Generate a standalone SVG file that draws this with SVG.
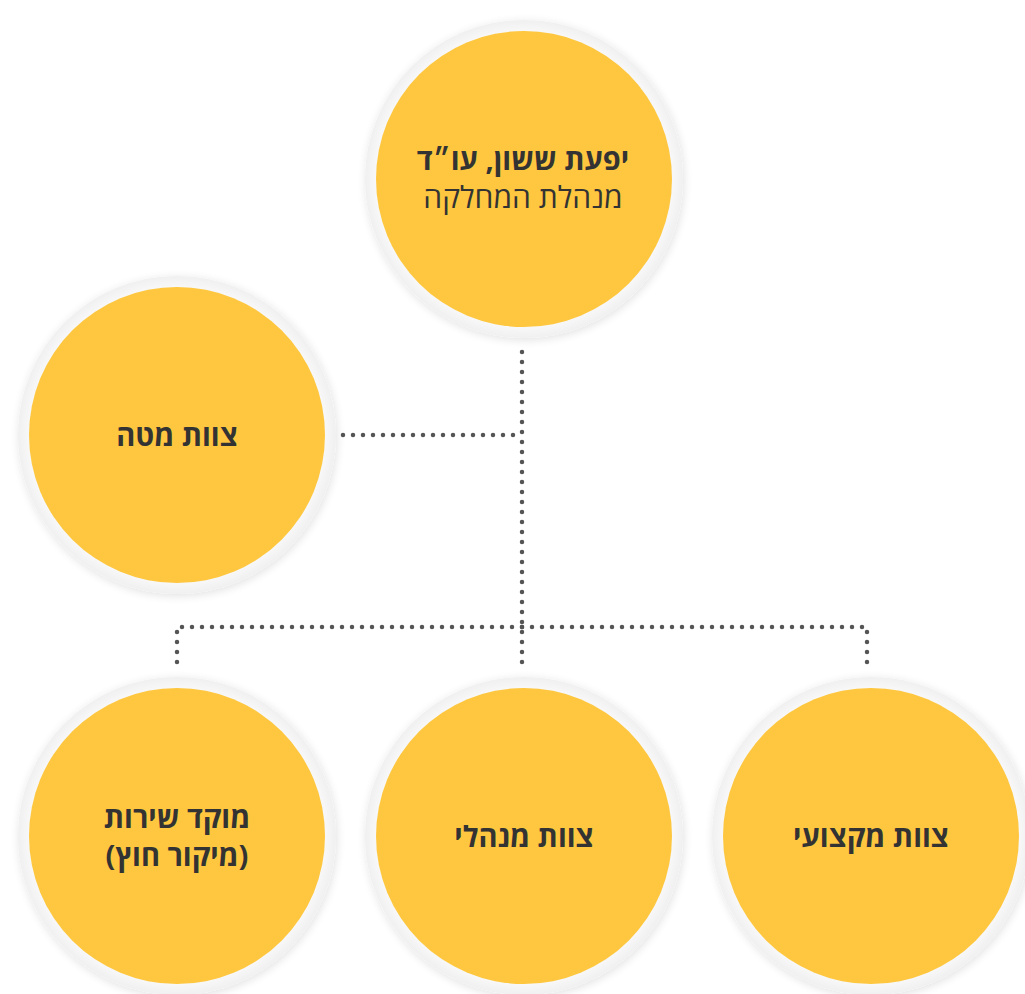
<svg xmlns="http://www.w3.org/2000/svg" width="1025" height="994" viewBox="0 0 1025 994">
  <defs>
    <radialGradient id="ringGrad" cx="0.5" cy="0.5" r="0.5">
      <stop offset="0.92" stop-color="#f9f9f9"/>
      <stop offset="1" stop-color="#f0f0f0"/>
    </radialGradient>
    <filter id="shadow" x="-20%" y="-20%" width="140%" height="140%">
      <feGaussianBlur in="SourceAlpha" stdDeviation="5"/>
      <feOffset dx="1" dy="2" result="b"/>
      <feComponentTransfer><feFuncA type="linear" slope="0.12"/></feComponentTransfer>
      <feMerge><feMergeNode/><feMergeNode in="SourceGraphic"/></feMerge>
    </filter>
  </defs>
  <style>
    .ring { fill: url(#ringGrad); filter: url(#shadow); }
    .disc { fill: #fec73f; }
    .lbl { font-family: "Open Sans", "Liberation Sans", "DejaVu Sans", sans-serif; font-size: 29px; fill: #333333; text-anchor: middle; direction: rtl; }
    .b { font-weight: bold; }
    .r { font-size: 30px; }
    .conn { fill: none; stroke: #555555; stroke-width: 4.5; stroke-linecap: round; stroke-dasharray: 0 10; }
  </style>
  <rect width="1025" height="994" fill="#ffffff"/>
  <g id="connectors">
    <path class="conn" d="M522 352 V667"/>
    <path class="conn" d="M343 435 H522"/>
    <path class="conn" d="M522 627 H177 V667"/>
    <path class="conn" d="M522 627 H867 V667"/>
  </g>
  <g id="node-manager">
    <circle class="ring" cx="524" cy="179" r="159"/>
    <circle class="disc" cx="524" cy="179" r="148"/>
    <text class="lbl b" x="523" y="170">יפעת ששון, עו״ד</text>
    <text class="lbl r" x="523" y="208">מנהלת המחלקה</text>
  </g>
  <g id="node-staff">
    <circle class="ring" cx="177" cy="435" r="159"/>
    <circle class="disc" cx="177" cy="435" r="148"/>
    <text class="lbl b" x="177" y="446">צוות מטה</text>
  </g>
  <g id="node-service">
    <circle class="ring" cx="177" cy="836" r="159"/>
    <circle class="disc" cx="177" cy="836" r="148"/>
    <text class="lbl b" x="177" y="828">מוקד שירות</text>
    <text class="lbl b" x="177" y="866">(מיקור חוץ)</text>
  </g>
  <g id="node-admin">
    <circle class="ring" cx="524" cy="836" r="159"/>
    <circle class="disc" cx="524" cy="836" r="148"/>
    <text class="lbl b" x="524" y="847">צוות מנהלי</text>
  </g>
  <g id="node-professional">
    <circle class="ring" cx="871" cy="836" r="159"/>
    <circle class="disc" cx="871" cy="836" r="148"/>
    <text class="lbl b" x="871" y="847">צוות מקצועי</text>
  </g>
</svg>
